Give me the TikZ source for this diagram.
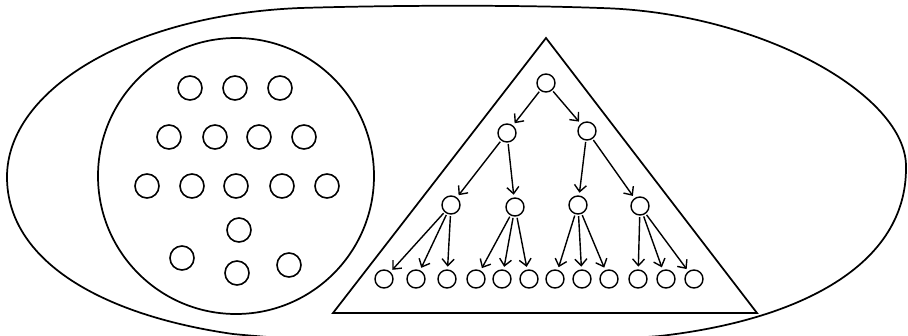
\documentclass[tikz,border=0pt]{standalone}
\usetikzlibrary{arrows.meta}
\begin{document}
\begin{tikzpicture}[x=0.75pt,y=-0.75pt,
  dot/.style={circle,draw,line width=1.2pt,minimum size=18pt,inner sep=0pt},
  tnode/.style={circle,draw,line width=1.05pt,minimum size=13.5pt,inner sep=0pt},
  arr/.style={line width=1.05pt,-{Straight Barb[length=5pt,width=9pt,line width=1.05pt]},shorten >=2pt,shorten <=1pt}]
\useasboundingbox (0,0) rectangle (908,336);
% outer egg-shaped outline
\draw[line width=1.3pt] (7,177) .. controls (7,90) and (130,15) .. (300,8)
  .. controls (400,5) and (520,5) .. (600,8)
  .. controls (760,12) and (907,95) .. (906,167)
  .. controls (907,265) and (800,320) .. (660,336)
  .. controls (520,347) and (370,347) .. (233,334)
  .. controls (100,315) and (7,260) .. (7,177) -- cycle;
% big circle
\draw[line width=1.3pt] (236,176) circle [radius=138];
% dots in circle
\node[dot] (a1) at (190,88) {};
\node[dot] (a2) at (235,88) {};
\node[dot] (a3) at (280,88) {};
\node[dot] (b1) at (169,137) {};
\node[dot] (b2) at (215,137) {};
\node[dot] (b3) at (259,137) {};
\node[dot] (b4) at (304,137) {};
\node[dot] (c1) at (147,186) {};
\node[dot] (c2) at (192,186) {};
\node[dot] (c3) at (236,186) {};
\node[dot] (c4) at (282,186) {};
\node[dot] (c5) at (327,186) {};
\node[dot] (d1) at (239,230) {};
\node[dot] (e1) at (182,258) {};
\node[dot] (e2) at (237,273) {};
\node[dot] (e3) at (289,265) {};
% triangle
\draw[line width=1.3pt] (546,38) -- (757,313) -- (333,313) -- cycle;
% tree
\node[tnode] (r) at (546,83) {};
\node[tnode] (l1) at (507,133) {};
\node[tnode] (l2) at (587,131) {};
\node[tnode] (m1) at (451,205) {};
\node[tnode] (m2) at (515,207) {};
\node[tnode] (m3) at (578,205) {};
\node[tnode] (m4) at (640,206) {};
\foreach \i/\x in {1/384,2/416,3/447,4/476,5/502,6/529,7/555,8/582,9/609,10/638,11/666,12/694}
  \node[tnode] (f\i) at (\x,279) {};
\draw[arr] (r) -- (l1);
\draw[arr] (r) -- (l2);
\draw[arr] (l1) -- (m1);
\draw[arr] (l1) -- (m2);
\draw[arr] (l2) -- (m3);
\draw[arr] (l2) -- (m4);
\draw[arr] (m1) -- (f1);
\draw[arr] (m1) -- (f2);
\draw[arr] (m1) -- (f3);
\draw[arr] (m2) -- (f4);
\draw[arr] (m2) -- (f5);
\draw[arr] (m2) -- (f6);
\draw[arr] (m3) -- (f7);
\draw[arr] (m3) -- (f8);
\draw[arr] (m3) -- (f9);
\draw[arr] (m4) -- (f10);
\draw[arr] (m4) -- (f11);
\draw[arr] (m4) -- (f12);
\end{tikzpicture}
\end{document}
